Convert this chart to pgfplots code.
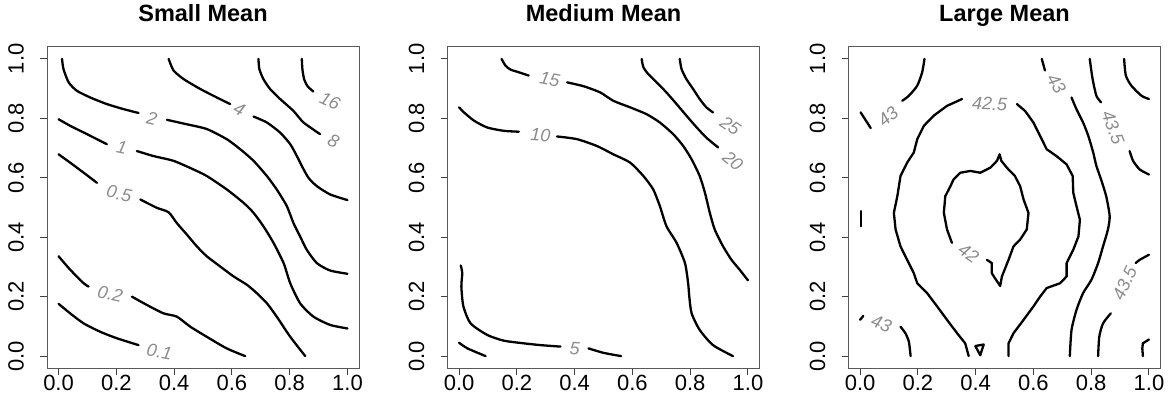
\documentclass[border=0pt]{standalone}
\usepackage{fontspec}
\setmainfont{Liberation Sans}
\usepackage{pgfplots}
\pgfplotsset{compat=1.18}
\definecolor{lblgray}{HTML}{8C8C8C}
\tikzset{lbl/.style={text=lblgray, font=\itshape\fontsize{18}{19}\selectfont, inner sep=0pt}}
\pgfplotsset{
 contourpanel/.style={
  scale only axis, width=312pt, height=321pt, anchor=south west,
  xmin=-0.04,xmax=1.04,ymin=-0.04,ymax=1.04,
  xtick={0,0.2,0.4,0.6,0.8,1}, ytick={0,0.2,0.4,0.6,0.8,1},
  xticklabels={0.0,0.2,0.4,0.6,0.8,1.0}, yticklabels={0.0,0.2,0.4,0.6,0.8,1.0},
  tick align=outside, xtick pos=left, ytick pos=left,
  major tick length=7pt,
  axis line style={black!65, line width=1pt},
  every tick/.style={black!75, line width=1pt},
  tick label style={font=\fontsize{22}{24}\selectfont, inner sep=0pt},
  xticklabel style={anchor=north},
  yticklabel style={xshift=-16pt, rotate=90, anchor=south},
  title style={font=\bfseries\fontsize{23.5}{26}\selectfont, at={(0.5,1)}, anchor=base, inner sep=0pt, yshift=19pt},
 },
 cl/.style={black, line width=2.3pt, line cap=round, line join=round, smooth, tension=0.4, mark=none},
 cj/.style={black, line width=2.3pt, line cap=round, line join=round, mark=none},
}
\begin{document}
\begin{tikzpicture}
\useasboundingbox (0,0) rectangle (1169pt,399pt);
% ---------------- Small Mean
\begin{axis}[contourpanel, at={(47pt,31pt)}, title={Small Mean}]
\addplot[cl] coordinates {(0.842,1.0)(0.844,0.966)(0.850,0.932)(0.862,0.908)(0.882,0.890)};
\addplot[cl] coordinates {(0.692,1)(0.695,0.966)(0.709,0.932)(0.732,0.899)(0.767,0.865)(0.813,0.825)(0.848,0.786)(0.905,0.747)};
\addplot[cl] coordinates {(0.381,1.0)(0.398,0.961)(0.433,0.932)(0.490,0.899)(0.548,0.870)(0.594,0.848)};
\addplot[cl] coordinates {(0.675,0.806)(0.721,0.786)(0.767,0.752)(0.802,0.713)(0.825,0.673)(0.842,0.640)(0.865,0.600)(0.894,0.572)(0.940,0.544)(1.0,0.525)};
\addplot[cl] coordinates {(0.012,1.0)(0.017,0.966)(0.035,0.921)(0.063,0.893)(0.110,0.870)(0.167,0.848)(0.225,0.831)(0.277,0.818)};
\addplot[cl] coordinates {(0.375,0.795)(0.444,0.780)(0.513,0.764)(0.582,0.730)(0.629,0.696)(0.675,0.657)(0.721,0.606)(0.755,0.561)(0.790,0.505)(0.813,0.448)(0.836,0.403)(0.859,0.358)(0.894,0.313)(0.940,0.288)(1.0,0.277)};
\addplot[cl] coordinates {(0,0.797)(0.040,0.775)(0.098,0.747)(0.167,0.713)};
\addplot[cl] coordinates {(0.271,0.690)(0.329,0.673)(0.398,0.657)(0.467,0.628)(0.513,0.606)(0.582,0.561)(0.640,0.516)(0.675,0.482)(0.709,0.437)(0.744,0.381)(0.779,0.313)(0.802,0.245)(0.836,0.178)(0.882,0.133)(0.940,0.105)(1.0,0.093)};
\addplot[cl] coordinates {(0,0.679)(0.040,0.651)(0.087,0.617)(0.133,0.583)};
\addplot[cl] coordinates {(0.283,0.527)(0.340,0.499)(0.381,0.484)(0.409,0.448)(0.444,0.409)(0.479,0.369)(0.513,0.336)(0.559,0.302)(0.606,0.268)(0.652,0.240)(0.686,0.212)(0.721,0.178)(0.755,0.133)(0.802,0.065)(0.854,0)};
\addplot[cl] coordinates {(0,0.336)(0.040,0.291)(0.087,0.245)(0.104,0.234)};
\addplot[cl] coordinates {(0.254,0.200)(0.306,0.172)(0.363,0.144)(0.409,0.133)(0.456,0.099)(0.513,0.065)(0.582,0.026)(0.646,0)};
\addplot[cl] coordinates {(0,0.176)(0.040,0.144)(0.087,0.110)(0.144,0.082)(0.202,0.060)(0.277,0.037)};
\node[lbl, rotate=-13] at (axis cs:0.323,0.800) {2};
\node[lbl, rotate=-27] at (axis cs:0.626,0.829) {4};
\node[lbl, rotate=-25] at (axis cs:0.940,0.859) {16};
\node[lbl, rotate=-25] at (axis cs:0.952,0.724) {8};
\node[lbl, rotate=-12] at (axis cs:0.219,0.702) {1};
\node[lbl, rotate=-12] at (axis cs:0.210,0.547) {0.5};
\node[lbl, rotate=-12] at (axis cs:0.179,0.209) {0.2};
\node[lbl, rotate=-10] at (axis cs:0.349,0.015) {0.1};
\end{axis}
% ---------------- Medium Mean
\begin{axis}[contourpanel, at={(447.5pt,31pt)}, title={Medium Mean}]
\addplot[cl] coordinates {(0.764,1)(0.770,0.966)(0.787,0.932)(0.810,0.899)(0.833,0.865)(0.856,0.837)(0.879,0.820)};
\addplot[cl] coordinates {(0.632,1)(0.638,0.972)(0.655,0.949)(0.684,0.921)(0.718,0.887)(0.753,0.848)(0.787,0.809)(0.822,0.770)(0.856,0.735)(0.897,0.702)};
\addplot[cl] coordinates {(0.147,1)(0.161,0.977)(0.178,0.964)(0.207,0.955)(0.241,0.944)};
\addplot[cl] coordinates {(0.374,0.921)(0.431,0.908)(0.489,0.887)(0.534,0.859)(0.592,0.837)(0.649,0.814)(0.695,0.786)(0.741,0.747)(0.776,0.707)(0.805,0.662)(0.833,0.606)(0.851,0.550)(0.868,0.482)(0.885,0.426)(0.914,0.369)(0.943,0.324)(0.971,0.291)(1.0,0.255)};
\addplot[cl] coordinates {(0,0.837)(0.017,0.820)(0.052,0.792)(0.098,0.769)(0.155,0.758)(0.207,0.755)};
\addplot[cl] coordinates {(0.339,0.739)(0.408,0.730)(0.477,0.707)(0.534,0.679)(0.592,0.651)(0.638,0.606)(0.672,0.561)(0.695,0.505)(0.718,0.437)(0.753,0.381)(0.782,0.313)(0.793,0.245)(0.797,0.200)(0.805,0.144)(0.833,0.088)(0.879,0.037)(0.948,0)};
\addplot[cl] coordinates {(0.006,0.305)(0.011,0.279)(0.008,0.234)(0.015,0.167)(0.040,0.110)(0.098,0.071)(0.155,0.052)(0.224,0.043)(0.282,0.037)(0.351,0.032)};
\addplot[cl] coordinates {(0.448,0.026)(0.500,0.011)(0.561,0)};
\addplot[cl] coordinates {(0,0.045)(0.029,0.026)(0.092,0)};
\node[lbl, rotate=-10] at (axis cs:0.314,0.930) {15};
\node[lbl, rotate=-3] at (axis cs:0.282,0.743) {10};
\node[lbl, rotate=-35] at (axis cs:0.939,0.775) {25};
\node[lbl, rotate=-40] at (axis cs:0.948,0.657) {20};
\node[lbl, rotate=-3] at (axis cs:0.400,0.026) {5};
\end{axis}
% ---------------- Large Mean
\begin{axis}[contourpanel, at={(848.5pt,31pt)}, title={Large Mean}]
\addplot[cl] coordinates {(0.223,1)(0.215,0.955)(0.198,0.910)(0.169,0.876)(0.146,0.859)};
\addplot[cj] coordinates {(0.002,0.820)(0.037,0.767)};
\addplot[cj] coordinates {(0.003,0.488)(0.003,0.437)};
\addplot[cj] coordinates {(0,0.122)(0.011,0.135)};
\addplot[cl] coordinates {(0.140,0.099)(0.157,0.077)(0.169,0.048)(0.175,0)};
\addplot[cj] coordinates {(0.376,0)(0.364,0.043)(0.336,0.077)(0.301,0.122)(0.267,0.167)(0.232,0.212)(0.198,0.245)(0.186,0.279)(0.163,0.324)(0.140,0.369)(0.123,0.426)(0.117,0.482)(0.129,0.538)(0.140,0.606)(0.163,0.651)(0.186,0.685)(0.198,0.730)(0.221,0.775)(0.255,0.809)(0.301,0.842)(0.353,0.865)};
\addplot[cj] coordinates {(0.543,0.848)(0.571,0.825)(0.600,0.786)(0.623,0.741)(0.646,0.696)(0.680,0.673)(0.715,0.645)(0.736,0.606)(0.738,0.550)(0.749,0.505)(0.761,0.459)(0.756,0.403)(0.738,0.358)(0.715,0.313)(0.715,0.268)(0.692,0.245)(0.646,0.229)(0.623,0.200)(0.600,0.167)(0.566,0.122)(0.531,0.077)(0.514,0.043)(0.514,0)};
\addplot[cj] coordinates {(0.399,0.034)(0.428,0.039)(0.416,0.003)(0.399,0.034)};
\addplot[cj] coordinates {(0.318,0.381)(0.301,0.426)(0.290,0.482)(0.295,0.538)(0.313,0.572)(0.324,0.595)(0.347,0.617)(0.382,0.623)(0.416,0.617)(0.451,0.634)(0.474,0.657)(0.483,0.679)(0.489,0.657)(0.508,0.634)(0.536,0.606)(0.554,0.572)(0.566,0.527)(0.583,0.482)(0.577,0.426)(0.554,0.392)(0.531,0.369)(0.514,0.324)(0.491,0.268)(0.485,0.236)(0.467,0.262)(0.456,0.279)(0.456,0.313)(0.439,0.324)};
\addplot[cj] coordinates {(0.629,1.0)(0.640,0.961)};
\addplot[cl] coordinates {(0.732,0.870)(0.749,0.831)(0.772,0.786)(0.790,0.741)(0.807,0.685)(0.818,0.640)(0.834,0.595)(0.852,0.538)(0.864,0.471)(0.858,0.426)(0.841,0.369)(0.824,0.313)(0.801,0.257)(0.772,0.212)(0.749,0.155)(0.732,0.088)(0.726,0)};
\addplot[cl] coordinates {(0.795,1)(0.805,0.932)(0.818,0.876)(0.834,0.854)};
\addplot[cl] coordinates {(0.933,0.690)(0.945,0.657)(0.968,0.628)(1.0,0.611)};
\addplot[cl] coordinates {(1,0.341)(0.968,0.324)(0.954,0.313)};
\addplot[cl] coordinates {(0.868,0.144)(0.841,0.110)(0.828,0.065)(0.824,0)};
\addplot[cl] coordinates {(0.914,1)(0.920,0.944)(0.939,0.910)(0.974,0.876)(1,0.865)};
\addplot[cj] coordinates {(1,0.056)(0.979,0.043)(0.977,0.026)(0.979,0)};
\node[lbl, rotate=40] at (axis cs:0.097,0.806) {43};
\node[lbl, rotate=-22] at (axis cs:0.074,0.110) {43};
\node[lbl, rotate=-2] at (axis cs:0.448,0.848) {42.5};
\node[lbl, rotate=-35] at (axis cs:0.376,0.345) {42};
\node[lbl, rotate=-60] at (axis cs:0.680,0.916) {43};
\node[lbl, rotate=-70] at (axis cs:0.876,0.769) {43.5};
\node[lbl, rotate=65] at (axis cs:0.916,0.245) {43.5};
\end{axis}
\end{tikzpicture}
\end{document}
